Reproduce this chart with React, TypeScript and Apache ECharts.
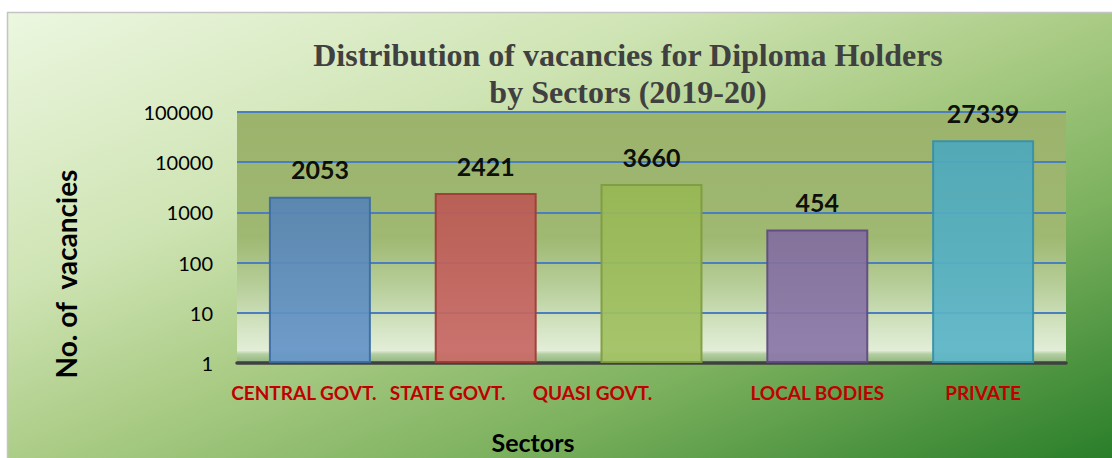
import React, { useEffect, useRef } from "react";
import * as echarts from "echarts";

const categories = ["CENTRAL GOVT.", "STATE GOVT.", "QUASI GOVT.", "LOCAL BODIES", "PRIVATE"];
const vacancies = [2053, 2421, 3660, 454, 27339];
const labelShift = [16, 38, 59, 0, 0];
const barFills = [
  ["#5784b4", "#6696c9"],
  ["#bb5a54", "#c96a67"],
  ["#97b755", "#a3c264"],
  ["#826d9e", "#8c79a9"],
  ["#4ea8bb", "#5db6c9"],
];
const barBorders = ["#3d6ca2", "#9e3b37", "#7e9c3f", "#5f4a80", "#3690aa"];
const titleLines = ["Distribution of vacancies for Diploma Holders", "by Sectors (2019-20)"];

const SANS = "Lato, 'Open Sans', sans-serif";

export default function App() {
  const ref = useRef<HTMLDivElement>(null);
  useEffect(() => {
    if (!ref.current) return;
    const chart = echarts.init(ref.current, null, { renderer: "svg" });
    const lg = (stops: [number, string][], x2 = 0, y2 = 1) =>
      new echarts.graphic.LinearGradient(0, 0, x2, y2, stops.map(([o, c]) => ({ offset: o, color: c })));
    chart.setOption({
      animation: false,
      backgroundColor: "#ffffff",
      graphic: [
        {
          type: "rect",
          z: -10,
          silent: true,
          shape: { x: 7.5, y: 12.5, width: 1112, height: 460 },
          style: {
            fill: lg(
              [
                [0, "#ecf7e0"],
                [0.3, "#cfe4b4"],
                [0.5, "#a9cb84"],
                [0.7, "#7cb15e"],
                [1, "#247a26"],
              ],
              1,
              1
            ),
            stroke: "#c4c4c4",
            lineWidth: 1.5,
          },
        },
        {
          type: "text",
          x: 628,
          y: 55,
          style: {
            text: titleLines[0],
            font: "bold 32px 'Liberation Serif', 'Times New Roman', serif",
            fill: "#404040",
            align: "center",
            verticalAlign: "middle",
          },
        },
        {
          type: "text",
          x: 628,
          y: 92,
          style: {
            text: titleLines[1],
            font: "bold 32px 'Liberation Serif', 'Times New Roman', serif",
            fill: "#404040",
            align: "center",
            verticalAlign: "middle",
          },
        },
        {
          type: "text",
          x: 66,
          y: 274,
          rotation: Math.PI / 2,
          style: {
            text: "No. of  vacancies",
            font: "bold 28px " + SANS,
            fill: "#000",
            align: "center",
            verticalAlign: "middle",
          },
        },
        {
          type: "text",
          x: 533,
          y: 442,
          style: {
            text: "Sectors",
            font: "bold 25px " + SANS,
            fill: "#000",
            align: "center",
            verticalAlign: "middle",
          },
        },
      ],
      grid: {
        left: 237,
        right: 46,
        top: 112,
        bottom: 95,
        show: true,
        borderWidth: 0,
        backgroundColor: lg([
          [0, "#9bb36b"],
          [0.5, "#9fb872"],
          [0.7, "#b8cf9b"],
          [0.86, "#d4e4c4"],
          [0.95, "#e3edd7"],
          [0.965, "#b3cd9f"],
          [1, "#8db67e"],
        ]),
      },
      xAxis: {
        type: "category",
        data: categories.map((c, i) => ({
          value: c,
          textStyle: { padding: [0, labelShift[i] * 2, 0, 0] },
        })),
        axisLine: { show: true, lineStyle: { color: "#404040", width: 3.5 } },
        axisTick: { show: false },
        axisLabel: {
          color: "#c00000",
          fontWeight: "bold",
          fontSize: 19,
          fontFamily: SANS,
          margin: 20,
          interval: 0,
        },
      },
      yAxis: {
        type: "log",
        logBase: 10,
        min: 1,
        max: 100000,
        axisLine: { show: false },
        axisTick: { show: false },
        axisLabel: {
          color: "#000",
          fontSize: 20,
          fontFamily: SANS,
          margin: 24,
          formatter: (v: number) => String(Math.round(v)),
        },
        splitLine: { lineStyle: { color: "#4a7ebf", width: 1.8 } },
      },
      series: [
        {
          type: "bar",
          barWidth: "61.5%",
          data: vacancies.map((v, i) => ({
            value: v,
            itemStyle: {
              color: lg([
                [0, barFills[i][0]],
                [1, barFills[i][1]],
              ]),
              borderColor: barBorders[i],
              borderWidth: 2,
              opacity: 0.93,
            },
          })),
          label: {
            show: true,
            position: "top",
            distance: 15,
            color: "#000",
            fontWeight: "bold",
            fontSize: 25,
            fontFamily: SANS,
          },
        },
      ],
    });
    return () => chart.dispose();
  }, []);
  return (
    <div
      ref={ref}
      style={{ position: "fixed", left: 0, top: 0, width: 1112, height: 458 }}
    />
  );
}
